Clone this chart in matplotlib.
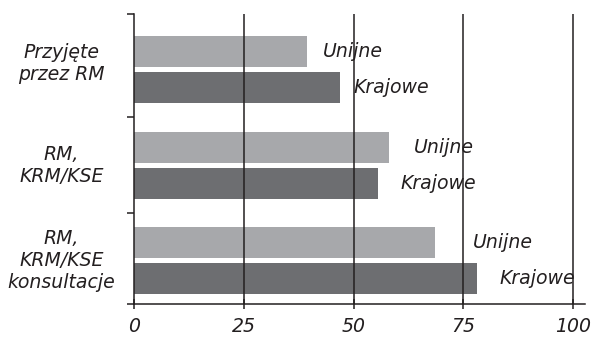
import matplotlib
matplotlib.use("Agg")
import matplotlib.pyplot as plt
from matplotlib.transforms import blended_transform_factory, ScaledTranslation

# Data
groups = ["Przyjęte\nprzez RM", "RM,\nKRM/KSE", "RM,\nKRM/KSE\nkonsultacje"]
series_names = ["Unijne", "Krajowe"]
unijne = [39.5, 58, 68.5]
krajowe = [47, 55.5, 78]
x_ticks = [0, 25, 50, 75, 100]

# Where each in-plot series label starts (data units along x)
unijne_label_x = [43, 63.8, 77.2]
krajowe_label_x = [49.9, 60.6, 83.3]
# vertical nudge of each category label, in points
group_label_nudge = [4.5, 0, 0]

col_light = "#a7a8ab"
col_dark = "#6d6e71"
ink = "#231f20"

plt.rcParams["font.family"] = ["DejaVu Sans"]
FS = 13.6

fig = plt.figure(figsize=(5.95, 3.38), dpi=100)
ax = fig.add_axes([134 / 595, 34 / 338, 451 / 595, 290 / 338])

bar_h = 0.325
off = 0.189
ypos = list(range(len(groups)))
ax.barh([y - off for y in ypos], unijne, height=bar_h, color=col_light, zorder=1)
ax.barh([y + off for y in ypos], krajowe, height=bar_h, color=col_dark, zorder=1)

ax.set_xlim(0, 102.7)
ylo, yhi = 2.456, -0.584
ax.set_ylim(ylo, yhi)

# vertical grid lines drawn on top of the bars
for v in x_ticks[1:]:
    ax.axvline(v, color=ink, lw=1.1, zorder=3)

for spine in ["top", "right"]:
    ax.spines[spine].set_visible(False)
for spine in ["left", "bottom"]:
    ax.spines[spine].set_color(ink)
    ax.spines[spine].set_linewidth(1.1)
    ax.spines[spine].set_zorder(4)

ax.set_xticks(x_ticks)
ax.set_xticklabels([str(t) for t in x_ticks], fontsize=FS, style="italic", color=ink)
ax.tick_params(axis="x", direction="inout", length=7, width=1.1, color=ink, pad=6)

ax.set_yticks([yhi, 0.5, 1.5, ylo])
ax.set_yticklabels([])
ax.tick_params(axis="y", direction="out", length=5, width=1.1, color=ink)

# category labels to the left of the axis
trans = blended_transform_factory(fig.transFigure, ax.transData)
for y, g, dy in zip(ypos, groups, group_label_nudge):
    t = trans + ScaledTranslation(0, dy / 72, fig.dpi_scale_trans)
    ax.text(61.5 / 595, y, g, transform=t, ha="center", va="center",
            multialignment="center", fontsize=FS, style="italic", color=ink,
            linespacing=1.2)

# series labels next to the bars
for y, lx in zip(ypos, unijne_label_x):
    ax.text(lx, y - off, series_names[0], ha="left", va="center",
            fontsize=FS, style="italic", color=ink, zorder=5)
for y, lx in zip(ypos, krajowe_label_x):
    ax.text(lx, y + off, series_names[1], ha="left", va="center",
            fontsize=FS, style="italic", color=ink, zorder=5)

fig.savefig("out.png", dpi=100)
